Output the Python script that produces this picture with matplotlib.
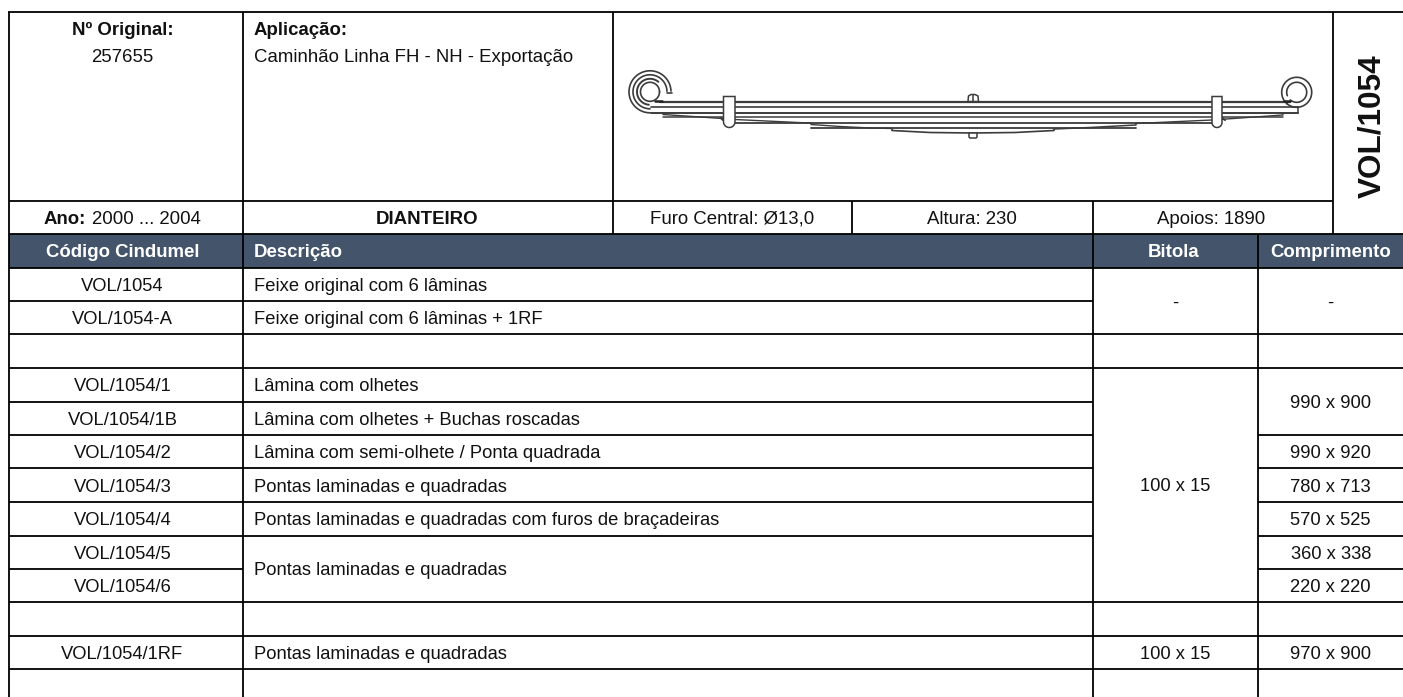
import matplotlib
matplotlib.use('Agg')
import matplotlib.pyplot as plt
from matplotlib.patches import Rectangle, Polygon
import numpy as np

plt.rcParams['font.family'] = ['Liberation Sans', 'DejaVu Sans']

# table contents
codes = ['VOL/1054', 'VOL/1054-A', '', 'VOL/1054/1', 'VOL/1054/1B', 'VOL/1054/2', 'VOL/1054/3',
         'VOL/1054/4', 'VOL/1054/5', 'VOL/1054/6', '', 'VOL/1054/1RF', '']
descriptions = ['Feixe original com 6 lâminas', 'Feixe original com 6 lâminas + 1RF', '',
                'Lâmina com olhetes', 'Lâmina com olhetes + Buchas roscadas',
                'Lâmina com semi-olhete / Ponta quadrada', 'Pontas laminadas e quadradas',
                'Pontas laminadas e quadradas com furos de braçadeiras']
desc_merged = 'Pontas laminadas e quadradas'
desc_rf = 'Pontas laminadas e quadradas'
bitola_values = ['-', '100 x 15', '100 x 15']
comp_values = ['-', '990 x 900', '990 x 920', '780 x 713', '570 x 525', '360 x 338', '220 x 220', '970 x 900']
headers = ['Código Cindumel', 'Descrição', 'Bitola', 'Comprimento']

HEADER = '#44546a'
INK = '#111111'
SPRING = '#3c3c3c'

fig = plt.figure(figsize=(14.03, 6.97), dpi=100)
ax = fig.add_axes([0, 0, 1, 1])
ax.set_xlim(0, 1403)
ax.set_ylim(697, 0)
ax.axis('off')

# grid positions in pixels
xl, x1, x2, x3, x4, x5, x6, xr = 9, 243, 612.5, 852, 1093, 1258, 1333, 1403
row_y = [267.7, 300.9, 334.3, 367.8, 401.7, 435, 468.4, 501.8, 535.7, 569, 601.8, 635.6, 668.6]
FS = 13.25


def hline(y, a, b):
    ax.plot([a, b], [y, y], color='black', lw=1.3, solid_capstyle='butt', zorder=3)


def vline(x, a, b):
    ax.plot([x, x], [a, b], color='black', lw=1.3, solid_capstyle='butt', zorder=3)


def put(x, y, s, ha='center', bold=False, color=INK, size=FS):
    ax.text(x, y, s, ha=ha, va='baseline', fontsize=size, color=color,
            fontweight='bold' if bold else 'normal', zorder=4)


def mid(i, j=None):
    # baseline of text in row i (or rows i..j merged)
    j = i if j is None else j
    return (row_y[i] + row_y[j + 1]) / 2 + 6.6


ax.add_patch(Rectangle((xl, 234), xr - xl, row_y[0] - 234, color=HEADER, lw=0, zorder=1))

# top block
hline(12.3, xl - 0.8, xr)
hline(201, xl, x6)
hline(234, xl, xr)
hline(row_y[0], xl, xr)
vline(xl, 11.7, 697)
vline(x1, 12, 697)
vline(x2, 12, 234)
vline(x3, 201, 234)
vline(x4, 201, 234)
vline(x6, 12, 234)
vline(x4, row_y[0], 697)
vline(x5, row_y[0], 697)
vline(x4, 234, row_y[0])
vline(x5, 234, row_y[0])

# row lines
hline(row_y[1], xl, x4)
hline(row_y[2], xl, xr)
hline(row_y[3], xl, xr)
hline(row_y[4], xl, x4)
for i in [5, 6, 7, 8]:
    hline(row_y[i], xl, x4)
    hline(row_y[i], x5, xr)
hline(row_y[9], xl, x1)
hline(row_y[9], x5, xr)
for i in [10, 11, 12]:
    hline(row_y[i], xl, xr)

# top block text
put(122.5, 35.3, 'Nº Original:', bold=True, size=13.4)
put(122.5, 61.8, '257655', size=13.4)
put(254, 35.3, 'Aplicação:', ha='left', bold=True, size=13.4)
put(254, 61.8, 'Caminhão Linha FH - NH - Exportação', ha='left', size=13.45)
put(86, 224, 'Ano:', ha='right', bold=True, size=13.4)
put(91.5, 224, '2000 ... 2004', ha='left', size=13.4)
put(427.5, 224, 'DIANTEIRO', bold=True, size=13.4)
put(732, 224, 'Furo Central: Ø13,0', size=13.4)
put(972, 224, 'Altura: 230', size=13.4)
put(1211, 224, 'Apoios: 1890', size=13.4)
ax.text(1372, 126.5, 'VOL/1054', rotation=90, ha='center', va='center', fontsize=22.7,
        fontweight='bold', color=INK, zorder=4)

# header text
put(122.5, 257.3, headers[0], bold=True, color='white', size=13.4)
put(254, 257.3, headers[1], ha='left', bold=True, color='white', size=13.4)
put(1173.7, 257.3, headers[2], bold=True, color='white', size=13.4)
put(1330.7, 257.3, headers[3], bold=True, color='white', size=13.4)

# rows
for i, c in enumerate(codes):
    if c:
        put(122.5, mid(i), c)
for i, d in enumerate(descriptions):
    if d:
        put(254, mid(i), d, ha='left')
put(254, mid(8, 9), desc_merged, ha='left')
put(254, mid(11), desc_rf, ha='left')

put(1175, mid(0, 1), bitola_values[0])
put(1175, mid(3, 9), bitola_values[1])
put(1175, mid(11), bitola_values[2])

put(1330.7, mid(0, 1), comp_values[0])
put(1330.7, mid(3, 4), comp_values[1])
put(1330.7, mid(5), comp_values[2])
put(1330.7, mid(6), comp_values[3])
put(1330.7, mid(7), comp_values[4])
put(1330.7, mid(8), comp_values[5])
put(1330.7, mid(9), comp_values[6])
put(1330.7, mid(11), comp_values[7])


# leaf spring drawing
def line(xs, ys, lw=1.1, color=SPRING, z=5):
    ax.plot(xs, ys, color=color, lw=lw, solid_capstyle='round', zorder=z)


def arc(cx, cy, r, a0, a1, lw=1.1):
    t = np.radians(np.linspace(a0, a1, 120))
    line(cx + r * np.cos(t), cy - r * np.sin(t), lw=lw)


def clamp(a, b, top, bottom):
    # strap with a rounded lower end
    r = (b - a) / 2
    t = np.radians(np.linspace(0, -180, 30))
    xs = np.concatenate([[a, b], (a + b) / 2 + r * np.cos(t)])
    ys = np.concatenate([[top, top], bottom - r - r * np.sin(t)])
    ax.add_patch(Polygon(np.column_stack([xs, ys]), closed=True, fc='white', ec=SPRING, lw=1.1, zorder=6))


# leaves
line([660, 1290], [101.7, 101.7], lw=1.6)
line([651, 1298], [107.3, 107.3], lw=1.2)
line([651, 1298], [112.5, 112.5], lw=1.4)
line([663, 1283], [117.4, 117.4], lw=1.1)
line([735, 1212], [122.6, 122.6], lw=1.3)
line([811, 1136], [128, 128], lw=1.3)
line([1298, 1298], [107.3, 112.5])

# tapered bottoms
line([663, 663, 722, 735, 800, 811], [113, 114.5, 118.5, 119.5, 122.6, 123], lw=1.0)
line([811, 811, 840, 870, 892], [123, 124.5, 126.5, 128, 128.5], lw=1.0)
line([892, 892, 930, 972, 1015, 1054, 1054], [129, 130.5, 132.5, 133, 132.5, 130.5, 129], lw=1.2)
line([1054, 1090, 1136, 1136], [129, 127.5, 125, 123], lw=1.1)
line([1136, 1212, 1283, 1283], [123.5, 120, 115, 113], lw=1.0)

# left eye
ecx, ecy = 650, 91.8
arc(ecx, ecy, 21, -90, -358, lw=1.2)
arc(ecx, ecy, 17, -90, -358, lw=1.2)
line([ecx + 17, ecx + 21.5], [ecy + 1, ecy + 1], lw=1.2)
arc(ecx, ecy, 9.5, 0, 360, lw=1.2)
arc(ecx, ecy, 13, -95, -310, lw=1.4)
line([655, 662], [100.5, 100.5], lw=1.8, color='#222222')

# right eye
rcx, rcy = 1296.7, 92.3
arc(rcx, rcy, 15, -130, 230, lw=1.2)
arc(rcx, rcy, 10, -130, 200, lw=1.2)
line([1284, 1290], [100.5, 100.5], lw=1.8, color='#222222')

# clamps
clamp(723.5, 735, 96.5, 127.5)
clamp(1212, 1222, 96.5, 127.5)
line([721, 723], [118, 120], lw=1.5)
line([1222, 1225], [118, 120], lw=1.5)

# center bolt
ax.add_patch(Polygon([(968, 101.5), (968.5, 96), (971, 94.5), (975, 94.5), (978, 96), (978.5, 101.5)],
                     closed=True, fc='white', ec=SPRING, lw=1.1, zorder=5))
line([973, 973], [95, 101.5])
ax.add_patch(Polygon([(969, 133), (969, 137), (970, 138), (976, 138), (977, 137), (977, 133)],
                     closed=True, fc='white', ec=SPRING, lw=1.1, zorder=5))

fig.savefig('out.png', dpi=100, facecolor='white')
